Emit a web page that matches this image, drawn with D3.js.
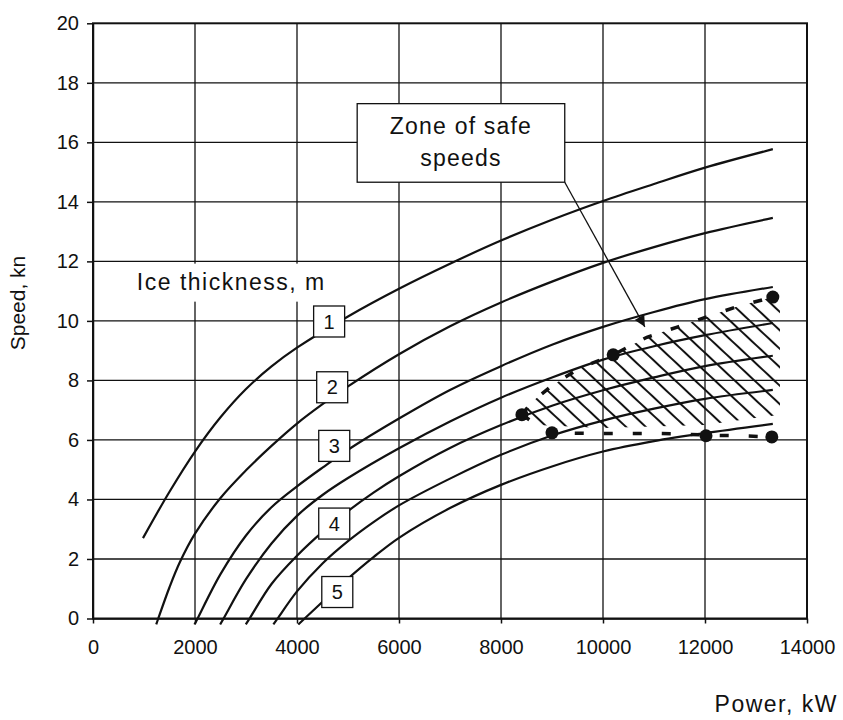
<!DOCTYPE html>
<html>
<head>
<meta charset="utf-8">
<script src="https://cdn.jsdelivr.net/npm/d3@7"></script>
<style>
  body { margin: 0; background: #fff; }
  svg text { font-family: "Liberation Sans", Arial, sans-serif; fill: #111; }
</style>
</head>
<body>
<svg id="chart" width="843" height="720"></svg>
<script>
// Tick values
const powerTicks = [0, 2000, 4000, 6000, 8000, 10000, 12000, 14000];
const speedTicks = [0, 2, 4, 6, 8, 10, 12, 14, 16, 18, 20];

// Speed vs power curves for ice thickness, [power kW, speed kn]
const curve1 = [[980, 2.7], [1500, 4.26], [2000, 5.61], [2500, 6.76], [3000, 7.71], [3500, 8.47], [4000, 9.1], [5000, 10.15], [6000, 11.08], [7000, 11.92], [8000, 12.7], [9000, 13.4], [10000, 14.03], [11000, 14.6], [12000, 15.15], [13330, 15.77]];
const curve2 = [[1240, -0.2], [1280, 0], [1500, 1.05], [1700, 1.88], [2000, 2.85], [2500, 4.05], [3000, 4.98], [3500, 5.8], [4000, 6.55], [4500, 7.2], [5000, 7.8], [6000, 8.88], [7000, 9.82], [8000, 10.62], [9000, 11.32], [10000, 11.95], [11000, 12.48], [12000, 12.95], [13330, 13.46]];
const curve3 = [[1990, -0.2], [2050, 0], [2500, 1.49], [3000, 2.79], [3500, 3.74], [4000, 4.44], [4500, 5.07], [5000, 5.67], [6000, 6.72], [7000, 7.68], [8000, 8.48], [9000, 9.2], [10000, 9.8], [11000, 10.3], [12000, 10.73], [13330, 11.14]];
const curve4 = [[2493, -0.2], [2560, 0], [3000, 1.32], [3500, 2.52], [4000, 3.45], [4500, 4.15], [5000, 4.72], [6000, 5.72], [7000, 6.62], [8000, 7.42], [9000, 8.1], [10000, 8.7], [11000, 9.15], [12000, 9.52], [13330, 9.93]];
const curve5 = [[2996, -0.2], [3070, 0], [3500, 1.16], [4000, 2.11], [4500, 2.91], [5000, 3.61], [5500, 4.23], [6000, 4.78], [7000, 5.73], [8000, 6.5], [9000, 7.15], [10000, 7.67], [11000, 8.1], [12000, 8.48], [13330, 8.83]];
const curve6 = [[3537, -0.2], [3620, 0], [4000, 0.91], [4500, 1.85], [5000, 2.6], [5500, 3.24], [6000, 3.8], [7000, 4.7], [8000, 5.5], [9000, 6.15], [10000, 6.65], [11000, 7.05], [12000, 7.38], [13330, 7.68]];
const curve7 = [[4025, -0.2], [4150, 0], [4500, 0.56], [5000, 1.34], [5500, 2.06], [6000, 2.71], [7000, 3.71], [8000, 4.49], [9000, 5.11], [10000, 5.61], [11000, 5.96], [12000, 6.23], [13330, 6.54]];

// Number labels and where they sit on the curves
const curveLabels = ["1", "2", "3", "4", "5"];
const labelPoints = [[4630, 9.98], [4690, 7.77], [4730, 5.8], [4730, 3.19], [4790, 0.89]];

// Zone of safe speeds
const safeUpper = [[8410, 6.85], [8620, 7.3], [9020, 7.85], [9550, 8.42], [10200, 8.86], [10860, 9.45], [11470, 9.8], [12060, 10.15], [12630, 10.48], [13330, 10.8]];
const safeLower = [[8410, 6.85], [8760, 6.44], [9000, 6.24], [9700, 6.22], [10300, 6.22], [10920, 6.22], [11550, 6.2], [12020, 6.16], [12730, 6.14], [13310, 6.1]];
const safeDots = [[8410, 6.85], [9000, 6.24], [10200, 8.86], [12020, 6.14], [13330, 10.8], [13310, 6.1]];
const hatchBottom = [[13470, 10.8], [13470, 6.85], [12000, 6.5], [10000, 6.4], [8700, 6.5]];

const svg = d3.select("#chart");
const ink = "#111";
const font = "Liberation Sans, Arial, sans-serif";

const x = d3.scaleLinear().domain([0, 14000]).range([93, 807]);
const y = d3.scaleLinear().domain([0, 20]).range([618.5, 23.3]);

const defs = svg.append("defs");

defs.append("pattern")
    .attr("id", "hatch")
    .attr("patternUnits", "userSpaceOnUse")
    .attr("width", 13.5)
    .attr("height", 13.5)
    .attr("patternTransform", "rotate(-47)")
    .append("line")
    .attr("x1", 6.75).attr("y1", 0)
    .attr("x2", 6.75).attr("y2", 13.5)
    .attr("stroke", ink)
    .attr("stroke-width", 2);

defs.append("marker")
    .attr("id", "arrow")
    .attr("viewBox", "0 0 10 10")
    .attr("refX", 10).attr("refY", 5)
    .attr("markerWidth", 14).attr("markerHeight", 11)
    .attr("markerUnits", "userSpaceOnUse")
    .attr("orient", "auto")
    .append("path")
    .attr("d", "M0,0L10,5L0,10z")
    .attr("fill", ink);

// grid
const grid = svg.append("g").attr("stroke", ink).attr("stroke-width", 1.3);

grid.selectAll(".vgrid")
    .data(powerTicks.slice(1, -1))
    .join("line")
    .attr("x1", d => x(d)).attr("x2", d => x(d))
    .attr("y1", y(20)).attr("y2", y(0));

grid.selectAll(".hgrid")
    .data(speedTicks.slice(1, -1))
    .join("line")
    .attr("x1", x(0)).attr("x2", x(14000))
    .attr("y1", d => y(d)).attr("y2", d => y(d));

// "Ice thickness, m" with white backing
const iceLabel = svg.append("g");
const iceText = iceLabel.append("text")
    .attr("x", x(860))
    .attr("y", y(11.05))
    .attr("font-size", 23)
    .attr("letter-spacing", 1.5)
    .text("Ice thickness, m");
const ib = iceText.node().getBBox();
iceLabel.insert("rect", "text")
    .attr("x", ib.x - 9).attr("y", ib.y - 5)
    .attr("width", ib.width + 18).attr("height", ib.height + 12)
    .attr("fill", "#fff");

// hatched zone
const line = d3.line().x(d => x(d[0])).y(d => y(d[1]));

svg.append("path")
    .attr("d", line(safeUpper.concat(hatchBottom)) + "Z")
    .attr("fill", "url(#hatch)");

// curves
const curves = [curve1, curve2, curve3, curve4, curve5, curve6, curve7];
const smooth = d3.line()
    .x(d => x(d[0]))
    .y(d => y(d[1]))
    .curve(d3.curveCatmullRom.alpha(0.5));

svg.append("g")
    .selectAll("path")
    .data(curves)
    .join("path")
    .attr("d", smooth)
    .attr("fill", "none")
    .attr("stroke", ink)
    .attr("stroke-width", 2.2);

// dashed borders of the zone
svg.append("g")
    .selectAll("path")
    .data([safeUpper, safeLower])
    .join("path")
    .attr("d", line)
    .attr("fill", "none")
    .attr("stroke", ink)
    .attr("stroke-width", 3.5)
    .attr("stroke-dasharray", "9 20");

svg.append("g")
    .selectAll("circle")
    .data(safeDots)
    .join("circle")
    .attr("cx", d => x(d[0]))
    .attr("cy", d => y(d[1]))
    .attr("r", 6.5)
    .attr("fill", ink);

// numbered boxes on the curves
const boxes = svg.append("g")
    .selectAll("g")
    .data(curveLabels)
    .join("g")
    .attr("transform", (d, i) => `translate(${x(labelPoints[i][0])},${y(labelPoints[i][1])})`);

boxes.append("rect")
    .attr("x", -15.5).attr("y", -15.5)
    .attr("width", 31).attr("height", 31)
    .attr("fill", "#fff")
    .attr("stroke", ink)
    .attr("stroke-width", 1.3);

boxes.append("text")
    .attr("text-anchor", "middle")
    .attr("dy", "0.36em")
    .attr("font-size", 20)
    .text(d => d);

// callout box
const zone = svg.append("g");
zone.append("line")
    .attr("x1", x(9250)).attr("y1", y(14.66))
    .attr("x2", x(10820)).attr("y2", y(9.8))
    .attr("stroke", ink)
    .attr("stroke-width", 1.3)
    .attr("marker-end", "url(#arrow)");

zone.append("rect")
    .attr("x", x(5180)).attr("y", y(17.3))
    .attr("width", x(9250) - x(5180))
    .attr("height", y(14.66) - y(17.3))
    .attr("fill", "#fff")
    .attr("stroke", ink)
    .attr("stroke-width", 1.3);

zone.selectAll("text")
    .data(["Zone of safe", "speeds"])
    .join("text")
    .attr("x", (x(5180) + x(9250)) / 2)
    .attr("y", (d, i) => y(17.3) + 30 + i * 32)
    .attr("text-anchor", "middle")
    .attr("font-size", 23)
    .attr("letter-spacing", 1.2)
    .text(d => d);

// axes and frame
const xAxis = svg.append("g")
    .attr("transform", `translate(0,${y(0)})`)
    .call(d3.axisBottom(x).tickValues(powerTicks).tickFormat(d3.format("d")).tickSize(5).tickPadding(16).tickSizeOuter(0));

const yAxis = svg.append("g")
    .attr("transform", `translate(${x(0)},0)`)
    .call(d3.axisLeft(y).tickValues(speedTicks).tickSize(6).tickPadding(8).tickSizeOuter(0));

[xAxis, yAxis].forEach(a => {
    a.attr("font-size", 20).attr("font-family", font);
    a.selectAll("line, path").attr("stroke", ink).attr("stroke-width", 1.5);
    a.selectAll("text").attr("fill", ink);
});

svg.append("rect")
    .attr("x", x(0)).attr("y", y(20))
    .attr("width", x(14000) - x(0))
    .attr("height", y(0) - y(20))
    .attr("fill", "none")
    .attr("stroke", ink)
    .attr("stroke-width", 2);

// titles
svg.append("text")
    .attr("x", 838)
    .attr("y", 712)
    .attr("text-anchor", "end")
    .attr("font-size", 23)
    .attr("letter-spacing", 1.5)
    .text("Power, kW");

svg.append("text")
    .attr("transform", "translate(25,303) rotate(-90)")
    .attr("text-anchor", "middle")
    .attr("font-size", 21)
    .text("Speed, kn");
</script>
</body>
</html>
